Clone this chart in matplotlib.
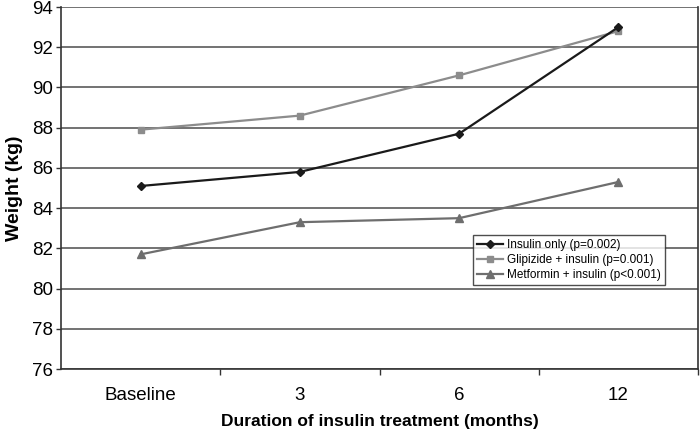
import matplotlib
matplotlib.use("Agg")
import matplotlib.pyplot as plt
from matplotlib.ticker import FixedLocator

plt.rcParams['font.family'] = ['Liberation Sans', 'DejaVu Sans']

categories = ["Baseline", "3", "6", "12"]
insulin_only = [85.1, 85.8, 87.7, 93.0]
glipizide_insulin = [87.9, 88.6, 90.6, 92.8]
metformin_insulin = [81.7, 83.3, 83.5, 85.3]
labels = ["Insulin only (p=0.002)", "Glipizide + insulin (p=0.001)", "Metformin + insulin (p<0.001)"]
yticks = [76, 78, 80, 82, 84, 86, 88, 90, 92, 94]

fig = plt.figure(figsize=(7, 4.32), dpi=100)
ax = fig.add_axes([61/700, 1 - 369/432, (698 - 61)/700, (369 - 7)/432])

x = list(range(len(categories)))
ax.plot(x, insulin_only, color='#1a1a1a', lw=1.6, marker='D', ms=4.5, label=labels[0], zorder=5)
ax.plot(x, glipizide_insulin, color='#8c8c8c', lw=1.6, marker='s', ms=3.8, label=labels[1], zorder=4)
ax.plot(x, metformin_insulin, color='#6e6e6e', lw=1.6, marker='^', ms=6, label=labels[2], zorder=4)

ax.set_xlim(-0.5, len(categories) - 0.5)
ax.set_ylim(76, 94)
ax.set_yticks(yticks)
ax.yaxis.grid(True, color='#5a5a5a', lw=1.2)
ax.set_axisbelow(True)
ax.set_xticks(x)
ax.set_xticklabels(categories)
ax.xaxis.set_minor_locator(FixedLocator([i + 0.5 for i in range(len(categories))]))
ax.tick_params(axis='x', which='major', length=0, pad=13, labelsize=13.5)
ax.tick_params(axis='x', which='minor', length=4, width=1, color='#333333')
ax.tick_params(axis='y', length=3.5, width=1, color='#333333', labelsize=13.5, pad=2.5)

for s in ['left', 'bottom', 'right']:
    ax.spines[s].set_color('#333333')
    ax.spines[s].set_linewidth(1.2)
ax.spines['top'].set_visible(False)

ax.set_ylabel("Weight (kg)", fontsize=14, fontweight='bold', labelpad=6)
ax.set_xlabel("Duration of insulin treatment (months)", fontsize=12.5, fontweight='bold', labelpad=7)

leg = ax.legend(loc='upper left', bbox_to_anchor=((473 - 61)/637, (369 - 235)/362),
                fontsize=8.5, frameon=True, fancybox=False, edgecolor='#222222',
                handlelength=2.2, handletextpad=0.3, borderpad=0.35, labelspacing=0.25,
                borderaxespad=0)
leg.get_frame().set_linewidth(1.0)

fig.savefig("out.png", dpi=100)
